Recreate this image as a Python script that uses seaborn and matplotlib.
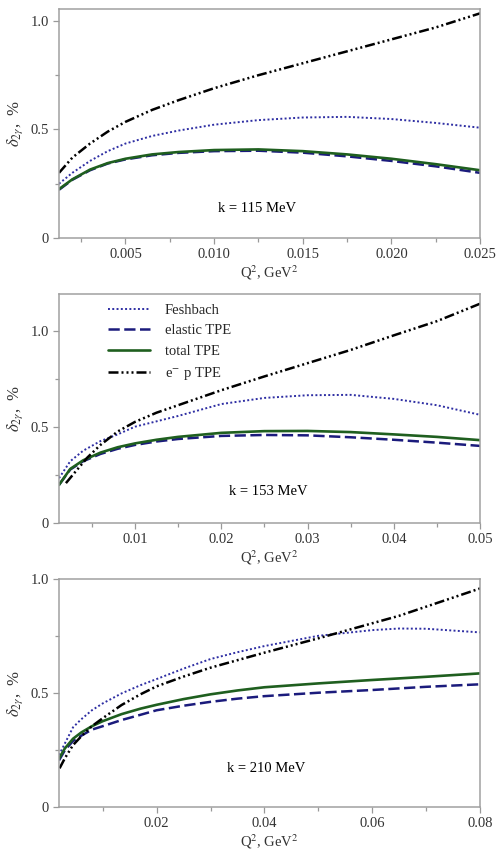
import matplotlib
matplotlib.use("Agg")
import matplotlib.pyplot as plt
import seaborn as sns

# k = 115 MeV
q2_115 = [0.00125, 0.002, 0.003, 0.004, 0.005, 0.0065, 0.008, 0.010, 0.0125, 0.015, 0.0175, 0.020, 0.0225, 0.025]
fesh_115 = [0.25, 0.30, 0.355, 0.40, 0.435, 0.47, 0.495, 0.522, 0.543, 0.555, 0.558, 0.548, 0.53, 0.508]
elastic_115 = [0.222, 0.268, 0.312, 0.343, 0.362, 0.381, 0.392, 0.40, 0.402, 0.393, 0.376, 0.355, 0.33, 0.300]
total_115 = [0.225, 0.27, 0.315, 0.345, 0.365, 0.385, 0.396, 0.405, 0.408, 0.400, 0.385, 0.365, 0.34, 0.312]
ep_115 = [0.30, 0.37, 0.435, 0.49, 0.535, 0.59, 0.635, 0.69, 0.75, 0.805, 0.86, 0.915, 0.97, 1.035]

# k = 153 MeV
q2_153 = [0.0012, 0.0025, 0.004, 0.006, 0.008, 0.010, 0.0125, 0.015, 0.020, 0.025, 0.030, 0.035, 0.040, 0.045, 0.050]
fesh_153 = [0.232, 0.32, 0.375, 0.425, 0.46, 0.50, 0.528, 0.556, 0.618, 0.65, 0.664, 0.666, 0.645, 0.612, 0.562]
elastic_153 = [0.197, 0.277, 0.32, 0.358, 0.385, 0.405, 0.423, 0.436, 0.452, 0.457, 0.455, 0.445, 0.432, 0.417, 0.40]
total_153 = [0.197, 0.28, 0.325, 0.365, 0.393, 0.413, 0.432, 0.447, 0.468, 0.477, 0.478, 0.472, 0.46, 0.447, 0.43]
q2_ep_153 = [0.002, 0.003, 0.0045, 0.006, 0.008, 0.010, 0.0125, 0.015, 0.020, 0.025, 0.030, 0.035, 0.040, 0.045, 0.050]
ep_153 = [0.206, 0.26, 0.34, 0.405, 0.475, 0.525, 0.573, 0.612, 0.69, 0.762, 0.831, 0.90, 0.976, 1.05, 1.141]

# k = 210 MeV
q2_210 = [0.0019, 0.003, 0.0045, 0.006, 0.008, 0.010, 0.0135, 0.017, 0.020, 0.025, 0.030, 0.035, 0.040, 0.050, 0.060, 0.065, 0.070, 0.080]
fesh_210 = [0.228, 0.28, 0.35, 0.385, 0.425, 0.455, 0.499, 0.535, 0.562, 0.608, 0.65, 0.68, 0.707, 0.752, 0.777, 0.784, 0.783, 0.767]
elastic_210 = [0.205, 0.25, 0.29, 0.313, 0.34, 0.355, 0.382, 0.405, 0.425, 0.445, 0.462, 0.476, 0.487, 0.502, 0.514, 0.521, 0.528, 0.539]
total_210 = [0.213, 0.258, 0.30, 0.327, 0.355, 0.377, 0.408, 0.432, 0.449, 0.474, 0.495, 0.512, 0.526, 0.543, 0.558, 0.565, 0.572, 0.587]
q2_ep_210 = [0.002, 0.003, 0.0045, 0.006, 0.008, 0.010, 0.0135, 0.017, 0.020, 0.025, 0.030, 0.035, 0.040, 0.050, 0.060, 0.065, 0.070, 0.080]
ep_210 = [0.17, 0.215, 0.272, 0.31, 0.355, 0.39, 0.448, 0.495, 0.53, 0.573, 0.612, 0.645, 0.678, 0.741, 0.807, 0.84, 0.88, 0.96]

labels = ["Feshbach", "elastic TPE", "total TPE", "e$^{-}$ p TPE"]

sns.set_style("ticks")
plt.rcParams['font.family'] = ['Liberation Serif', 'DejaVu Serif']
plt.rcParams['mathtext.fontset'] = 'stix'

fesh_style = dict(color='#2e2ea3', lw=1.4, linestyle=(0, (1, 1.2)))
el_style = dict(color='#1b1b7c', lw=1.8, linestyle=(0, (4.5, 1.8)))
tot_style = dict(color='#1f5f1f', lw=1.9, linestyle='-')
ep_style = dict(color='black', lw=1.8, linestyle=(0, (4, 1.2, 0.8, 1.2, 0.8, 1.2, 0.8, 1.2)))

fig = plt.figure(figsize=(4.98, 8.56), dpi=100)
ax1 = fig.add_axes([0.1185, 0.722, 0.8455, 0.2675])
ax2 = fig.add_axes([0.1185, 0.3894, 0.8455, 0.2668])
ax3 = fig.add_axes([0.1185, 0.0572, 0.8455, 0.266])

panels = [
    (ax1, q2_115, fesh_115, elastic_115, total_115, q2_115, ep_115, (0.00125, 0.025), 1.055,
     [0.005, 0.010, 0.015, 0.020, 0.025], ['0.005', '0.010', '0.015', '0.020', '0.025'],
     [0.0025 * i for i in range(1, 11)], "k = 115 MeV", (0.47, 0.13)),
    (ax2, q2_153, fesh_153, elastic_153, total_153, q2_ep_153, ep_153, (0.0012, 0.05), 1.19,
     [0.01, 0.02, 0.03, 0.04, 0.05], ['0.01', '0.02', '0.03', '0.04', '0.05'],
     [0.005 * i for i in range(1, 11)], "k = 153 MeV", (0.496, 0.136)),
    (ax3, q2_210, fesh_210, elastic_210, total_210, q2_ep_210, ep_210, (0.0019, 0.08), 1.0,
     [0.02, 0.04, 0.06, 0.08], ['0.02', '0.04', '0.06', '0.08'],
     [0.01 * i for i in range(1, 9)], "k = 210 MeV", (0.493, 0.17)),
]

for i, (ax, x, fe, el, to, xep, ep, xlim, ytop, xt, xtl, xminor, ktext, kpos) in enumerate(panels):
    lab = labels if i == 1 else [None] * 4
    sns.lineplot(x=x, y=fe, ax=ax, label=lab[0], legend=False, **fesh_style)
    sns.lineplot(x=x, y=el, ax=ax, label=lab[1], legend=False, **el_style)
    sns.lineplot(x=x, y=to, ax=ax, label=lab[2], legend=False, **tot_style)
    sns.lineplot(x=xep, y=ep, ax=ax, label=lab[3], legend=False, **ep_style)

    ax.set_xlim(*xlim)
    ax.set_ylim(0, ytop)
    ax.set_xticks(xt, xtl)
    ax.set_xticks(xminor, minor=True)
    ax.set_yticks([0, 0.5, 1.0], ['0', '0.5', '1.0'])
    ax.set_yticks([0.25, 0.75], minor=True)
    ax.tick_params(which='major', direction='out', length=4.5, width=0.9,
                   color='#999999', labelsize=10.5, labelcolor='#333333', pad=3)
    ax.tick_params(which='minor', direction='out', length=3, width=0.9, color='#999999')
    for sp in ax.spines.values():
        sp.set_visible(True)
        sp.set_color('#a0a0a0')
        sp.set_linewidth(1.1)

    ax.set_xlabel("Q$^2$, GeV$^2$", fontsize=10.5, color='#333333', labelpad=1.5)
    ax.set_ylabel(r"$\delta_{2\gamma}$,  %", fontsize=12, color='#333333')
    ax.yaxis.set_label_coords(-0.08, 0.5)
    ax.text(kpos[0], kpos[1], ktext, transform=ax.transAxes, ha='center', va='center',
            fontsize=10.5, color='black')

ax2.legend(loc='upper left', bbox_to_anchor=(0.116, 0.96), frameon=False,
           fontsize=10.5, handlelength=2.9, handletextpad=1.0, labelspacing=0.5,
           borderaxespad=0, borderpad=0)

fig.savefig("out.png", dpi=100)
